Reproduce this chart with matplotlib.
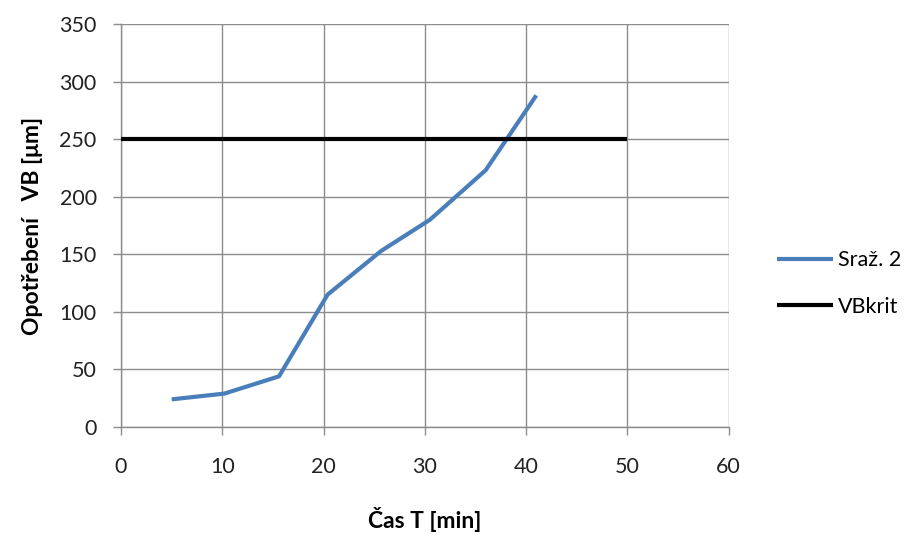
import matplotlib
matplotlib.use("Agg")
import matplotlib.pyplot as plt

plt.rcParams['font.family'] = ['Lato', 'DejaVu Sans']

time_min = [5.0, 10.2, 15.6, 20.4, 25.7, 30.5, 36.0, 41.0]
wear_vb = [24, 29, 44, 115, 153, 180, 223, 288]
vbkrit_x = [0, 50]
vbkrit_y = [250, 250]
x_ticks = [0, 10, 20, 30, 40, 50, 60]
y_ticks = [0, 50, 100, 150, 200, 250, 300, 350]

fig = plt.figure(figsize=(9.12, 5.34), dpi=100)
ax = fig.add_axes([0.1327, 0.2004, 0.799 - 0.1327, 0.955 - 0.2004])

grid_c = '#8c8c8c'
ax.plot(time_min, wear_vb, color='#4a7ebb', lw=3.0, solid_capstyle='butt', label='Sraž. 2', zorder=3)
ax.plot(vbkrit_x, vbkrit_y, color='black', lw=3.0, solid_capstyle='butt', label='VBkrit', zorder=4)

ax.set_xlim(0, 60)
ax.set_ylim(0, 350)
ax.set_xticks(x_ticks)
ax.set_yticks(y_ticks)
ax.grid(True, color=grid_c, lw=1.0)
ax.set_axisbelow(True)
for s in ['top', 'right']:
    ax.spines[s].set_visible(False)
for s in ['left', 'bottom']:
    ax.spines[s].set_color(grid_c)
    ax.spines[s].set_linewidth(1.0)
ax.tick_params(axis='both', direction='out', length=5.5, width=1, color=grid_c,
               labelsize=15.5, labelcolor='#222222')
ax.tick_params(axis='x', pad=16)
ax.tick_params(axis='y', pad=12)

ax.set_xlabel('Čas T [min]', fontsize=16.5, fontweight='bold', labelpad=22)
ax.set_ylabel('Opotřebení   VB [μm]', fontsize=16.5, fontweight='bold', labelpad=12)

ax.legend(loc='center left', bbox_to_anchor=(1.065, 0.356), frameon=False,
          fontsize=15.5, handlelength=2.6, labelspacing=1.25, handletextpad=0.25,
          borderaxespad=0.0)

fig.savefig('out.png', dpi=100)
